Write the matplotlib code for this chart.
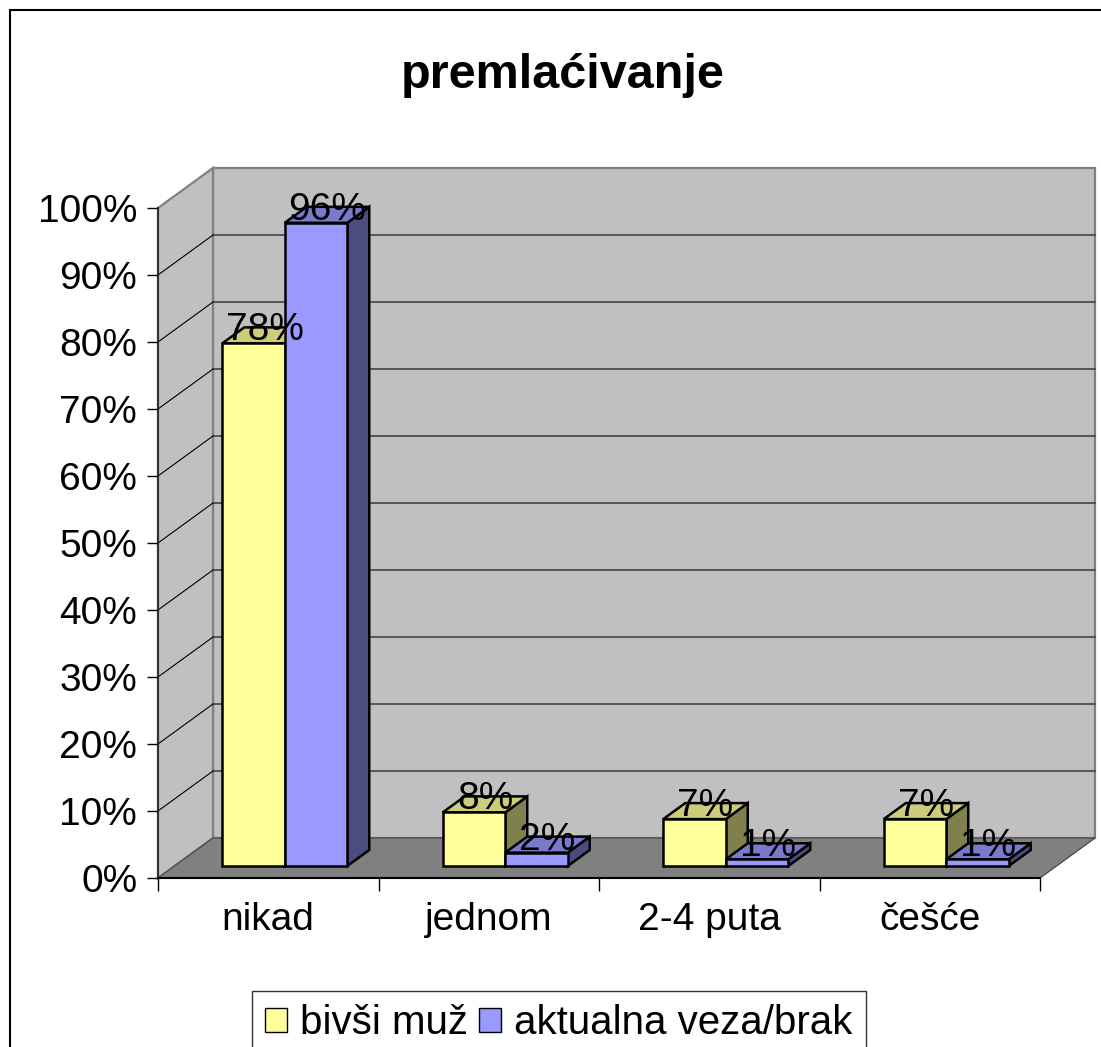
import matplotlib
matplotlib.use("Agg")
import matplotlib.pyplot as plt
from matplotlib.patches import Polygon, Rectangle, Patch

plt.rcParams['font.family'] = ['Liberation Sans', 'DejaVu Sans']

# data
categories = ['nikad', 'jednom', '2-4 puta', 'češće']
series_names = ['bivši muž', 'aktualna veza/brak']
bivsi_muz = [78, 8, 7, 7]
aktualna = [96, 2, 1, 1]
y_ticks = list(range(0, 101, 10))

W, H = 1101, 1047
fig = plt.figure(figsize=(W / 100, H / 100), dpi=100)

# front plane of the plot area in pixels
x0, x1, yb, yt = 158, 1040, 878, 208
ax = fig.add_axes([x0 / W, (H - yb) / H, (x1 - x0) / W, (yb - yt) / H])
ax.set_xlim(0, 4)
ax.set_ylim(0, 100)
ax.patch.set_visible(False)

# depth vector of the 3D box (data units)
ddx = 55 / ((x1 - x0) / 4)
ddy = 40 / ((yb - yt) / 100)

wall = '#C0C0C0'
# back wall
ax.add_patch(Rectangle((ddx, ddy), 4, 100, facecolor=wall, edgecolor='#808080',
                       lw=1.6, zorder=0.5, clip_on=False))
# left wall
ax.add_patch(Polygon([(0, 0), (ddx, ddy), (ddx, 100 + ddy), (0, 100)], closed=True,
                     facecolor=wall, edgecolor='#808080', lw=1.6, zorder=0.6, clip_on=False))
# floor
ax.add_patch(Polygon([(0, 0), (4, 0), (4 + ddx, ddy), (ddx, ddy)], closed=True,
                     facecolor='#808080', edgecolor='#505050', lw=1, zorder=0.7, clip_on=False))

for v in y_ticks[1:-1]:
    ax.plot([ddx, 4 + ddx], [v + ddy, v + ddy], color='#444444', lw=1.2, zorder=0.8, clip_on=False)
    ax.plot([0, ddx], [v, v + ddy], color='black', lw=0.8, zorder=0.8, clip_on=False)

# bars
w = 62.5 / ((x1 - x0) / 4)
fx, fy = 0.3 * ddx, 0.3 * ddy
bdx, bdy = 0.4 * ddx, 0.4 * ddy
fronts = ['#FFFF99', '#9999FF']
tops = ['#CCCC7A', '#7A7ACC']
sides = ['#80804C', '#4C4C80']

for s, vals in enumerate([bivsi_muz, aktualna]):
    z = 3 + s
    lefts = [i + 0.5 - w + s * w + fx for i in range(len(categories))]
    ax.bar(lefts, vals, width=w, bottom=fy, align='edge', color=fronts[s],
           edgecolor='black', lw=1.8, zorder=z, clip_on=False)
    for xl, v in zip(lefts, vals):
        xr = xl + w
        ax.add_patch(Polygon([(xr, fy), (xr + bdx, fy + bdy), (xr + bdx, fy + bdy + v), (xr, fy + v)],
                             closed=True, facecolor=sides[s], edgecolor='black', lw=1.8,
                             zorder=z - 0.1, clip_on=False))
        ax.add_patch(Polygon([(xl, fy + v), (xl + bdx, fy + v + bdy), (xr + bdx, fy + v + bdy), (xr, fy + v)],
                             closed=True, facecolor=tops[s], edgecolor='black', lw=1.8,
                             zorder=z - 0.1, clip_on=False))
        ax.text(xl + w / 2 + bdx / 2, fy + v + bdy / 2 - 0.75, f'{v}%', ha='center', va='baseline',
                fontsize=28, zorder=10)

# axes
for sp in ['top', 'right']:
    ax.spines[sp].set_visible(False)
ax.spines['left'].set_color('#333333')
ax.spines['left'].set_linewidth(1.5)
ax.spines['bottom'].set_color('black')
ax.spines['bottom'].set_linewidth(1.5)
ax.spines['left'].set_zorder(1)
ax.spines['bottom'].set_zorder(1)

ax.set_yticks(y_ticks, [f'{v}%' for v in y_ticks])
ax.tick_params(axis='y', length=8, width=1, color='black', pad=7, labelsize=28)
ax.set_xticks(range(5), [''] * 5)
ax.tick_params(axis='x', which='major', length=9, width=1, color='black')
ax.set_xticks([i + 0.5 for i in range(4)], categories, minor=True)
ax.tick_params(axis='x', which='minor', length=0, pad=17, labelsize=28)

fig.text(563 / W, 1 - 75 / H, 'premlaćivanje', ha='center', va='center',
         fontsize=35, fontweight='bold')

handles = [Patch(facecolor=fronts[0], edgecolor='black'), Patch(facecolor=fronts[1], edgecolor='black')]
leg = fig.legend(handles, series_names, loc='upper left', bbox_to_anchor=(252 / W, 1 - 991 / H),
                 ncol=2, fontsize=29, frameon=True, fancybox=False, handlelength=0.55,
                 handleheight=0.55, handletextpad=0.32, columnspacing=0.28, borderpad=0.32,
                 borderaxespad=0)
leg.get_frame().set_edgecolor('black')
leg.get_frame().set_linewidth(1)

fig.patches.append(Rectangle((10 / W, -0.2), 1.2, 1.2 - 10 / H, transform=fig.transFigure,
                             fill=False, edgecolor='black', lw=1.5))

fig.savefig('out.png', dpi=100)
